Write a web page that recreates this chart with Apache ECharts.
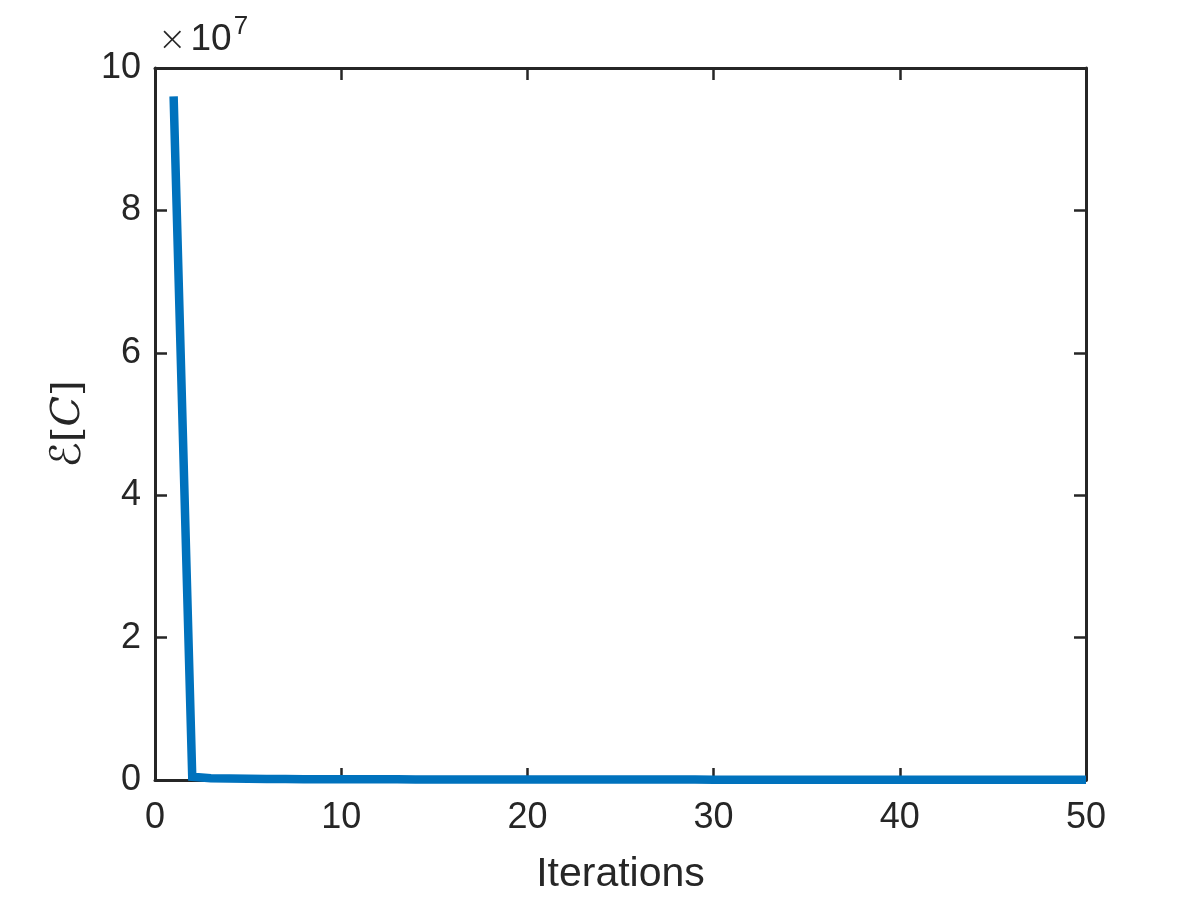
<!DOCTYPE html>
<html>
<head>
<meta charset="utf-8">
<script src="https://cdn.jsdelivr.net/npm/echarts@6/dist/echarts.min.js"></script>
<style>html,body{margin:0;padding:0;background:#fff}#c{width:1200px;height:900px}</style>
</head>
<body>
<div id="c"></div>
<script>
const iterations = [1,2,3,4,5,6,7,8,9,10,11,12,13,14,15,16,17,18,19,20,21,22,23,24,25,26,27,28,29,30,31,32,33,34,35,36,37,38,39,40,41,42,43,44,45,46,47,48,49,50];
const energy = [96000000, 450000, 260000, 200000, 170000, 150000, 135000, 122000, 112000, 104000,
  98000, 93000, 88000, 84000, 80000, 77000, 74000, 71000, 69000, 67000,
  65000, 63000, 61000, 59500, 58000, 56500, 55000, 54000, 53000, 52000,
  51000, 50000, 49000, 48200, 47400, 46600, 45800, 45000, 44300, 43600,
  43000, 42400, 41800, 41200, 40600, 40000, 39500, 39000, 38500, 38000];
const xTicks = [0, 10, 20, 30, 40, 50];
const yTickLabels = ['0', '2', '4', '6', '8', '10'];
const scaleExponent = 7;

const chart = echarts.init(document.getElementById('c'));
const axisColor = '#262626';
const font = 'Liberation Sans, Arial, Helvetica, sans-serif';
const seriesData = iterations.map((x, i) => [x, energy[i]]);
const commonTick = {show: true, inside: true, length: 12, lineStyle: {color: axisColor, width: 2.5}};
chart.setOption({
  animation: false,
  backgroundColor: '#fff',
  grid: {left: 155, top: 68, right: 114, bottom: 115, containLabel: false},
  graphic: [{
    type: 'text', left: 158, top: 14,
    style: {
      text: '{x|×}{a|10}{s|' + scaleExponent + '}',
      rich: {
        x: {font: '300 34px DejaVu Sans, sans-serif', fill: axisColor, verticalAlign: 'bottom', lineHeight: 44, padding: [0, 4, 0, 0]},
        a: {font: '37px ' + font, fill: axisColor, verticalAlign: 'bottom', lineHeight: 44},
        s: {font: '26px ' + font, fill: axisColor, verticalAlign: 'top', lineHeight: 44, padding: [0, 0, 16, 2]}
      }
    }
  }],
  xAxis: [{
    type: 'value', min: 0, max: 50, interval: 10,
    name: 'Iterations', nameLocation: 'middle', nameGap: 74,
    nameTextStyle: {fontFamily: font, fontSize: 41, color: axisColor},
    axisLine: {show: true, onZero: false, lineStyle: {color: axisColor, width: 3}},
    axisTick: commonTick,
    axisLabel: {fontFamily: font, fontSize: 36, color: axisColor, margin: 20,
      formatter: v => xTicks.includes(v) ? String(v) : ''},
    splitLine: {show: false}
  }, {
    type: 'value', min: 0, max: 50, interval: 10, position: 'top',
    axisLine: {show: true, onZero: false, lineStyle: {color: axisColor, width: 3}},
    axisTick: commonTick, axisLabel: {show: false}, splitLine: {show: false}
  }],
  yAxis: [{
    type: 'value', min: 0, max: 100000000, interval: 20000000,
    name: '{e|ℰ}{b|[}{c|C}{b|]}', nameLocation: 'middle', nameGap: 60, nameRotate: 90,
    nameTextStyle: {
      color: axisColor,
      rich: {
        e: {fontFamily: 'DejaVu Sans', fontSize: 42, color: axisColor},
        b: {fontFamily: 'DejaVu Serif', fontSize: 40, color: axisColor},
        c: {fontFamily: 'DejaVu Serif', fontStyle: 'italic', fontSize: 40, color: axisColor}
      }
    },
    axisLine: {show: true, onZero: false, lineStyle: {color: axisColor, width: 3}},
    axisTick: commonTick,
    axisLabel: {fontFamily: font, fontSize: 36, color: axisColor, margin: 14,
      formatter: v => yTickLabels[Math.round(v / 20000000)]},
    splitLine: {show: false}
  }, {
    type: 'value', min: 0, max: 100000000, interval: 20000000, position: 'right',
    axisLine: {show: true, onZero: false, lineStyle: {color: axisColor, width: 3}},
    axisTick: commonTick, axisLabel: {show: false}, splitLine: {show: false}
  }],
  series: [{
    type: 'line', data: seriesData, showSymbol: false, symbol: 'none', clip: false,
    lineStyle: {color: '#0072BD', width: 8.5, cap: 'butt', join: 'miter'},
    z: 1
  }]
});
</script>
</body>
</html>
